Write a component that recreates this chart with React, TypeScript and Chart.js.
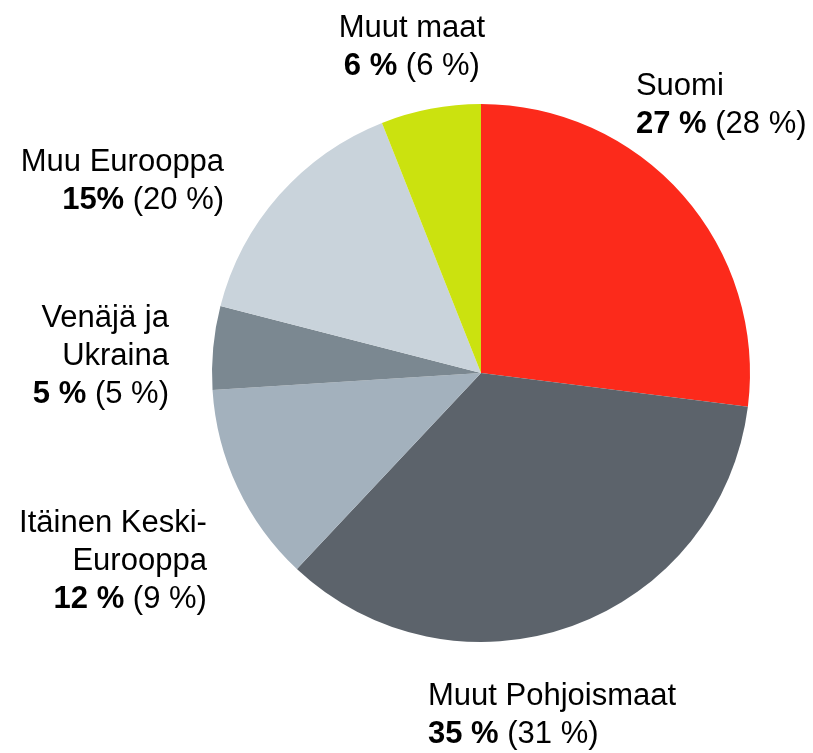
import React, { useEffect, useRef } from "react";
import { Chart, registerables } from "chart.js";

Chart.register(...registerables);

const categories = [
  "Suomi",
  "Muut Pohjoismaat",
  "Itäinen Keski-Eurooppa",
  "Venäjä ja Ukraina",
  "Muu Eurooppa",
  "Muut maat",
];
const shares = [27, 35, 12, 5, 15, 6];
const shareLabels = ["27 %", "35 %", "12 %", "5 %", "15%", "6 %"];
const previousLabels = ["(28 %)", "(31 %)", "(9 %)", "(5 %)", "(20 %)", "(6 %)"];
const nameLines = [
  ["Suomi"],
  ["Muut Pohjoismaat"],
  ["Itäinen Keski-", "Eurooppa"],
  ["Venäjä ja", "Ukraina"],
  ["Muu Eurooppa"],
  ["Muut maat"],
];
const colors = ["#FC2A1B", "#5C636B", "#A3B1BD", "#7B8891", "#C9D3DB", "#CBE20F"];

// label placement relative to pie centre, in units of the radius
const labelPlacement = [
  { fx: 0.576, fy: -1.033, align: "left" },
  { fx: -0.197, fy: 1.234, align: "left" },
  { fx: -1.019, fy: 0.591, align: "right" },
  { fx: -1.16, fy: -0.171, align: "right" },
  { fx: -0.955, fy: -0.751, align: "right" },
  { fx: -0.257, fy: -1.249, align: "center" },
];

const FONT_FAMILY = "'Liberation Sans', Arial, sans-serif";
const FONT_SIZE = 31;
const LINE_HEIGHT = 38;

const labelPlugin = {
  id: "outerLabels",
  afterDraw(chart: any) {
    const ctx = chart.ctx;
    const meta = chart.getDatasetMeta(0);
    const arc = meta.data[0];
    if (!arc) return;
    const cx = arc.x;
    const cy = arc.y;
    const r = arc.outerRadius;
    ctx.save();
    ctx.fillStyle = "#000";
    ctx.textBaseline = "alphabetic";
    ctx.textAlign = "left";
    categories.forEach((_, i) => {
      const p = labelPlacement[i];
      const ax = cx + p.fx * r;
      let by = cy + p.fy * r;
      const lines: { text: string; bold: boolean }[][] = nameLines[i].map((t) => [
        { text: t, bold: false },
      ]);
      lines.push([
        { text: shareLabels[i], bold: true },
        { text: " " + previousLabels[i], bold: false },
      ]);
      lines.forEach((segs) => {
        const widths = segs.map((s) => {
          ctx.font = (s.bold ? "bold " : "") + FONT_SIZE + "px " + FONT_FAMILY;
          return ctx.measureText(s.text).width;
        });
        const total = widths.reduce((a, b) => a + b, 0);
        let x = ax;
        if (p.align === "right") x = ax - total;
        else if (p.align === "center") x = ax - total / 2;
        segs.forEach((s, k) => {
          ctx.font = (s.bold ? "bold " : "") + FONT_SIZE + "px " + FONT_FAMILY;
          ctx.fillText(s.text, x, by);
          x += widths[k];
        });
        by += LINE_HEIGHT;
      });
    });
    ctx.restore();
  },
};

export default function App() {
  const canvasRef = useRef<HTMLCanvasElement | null>(null);

  useEffect(() => {
    document.body.style.margin = "0";
    const canvas = canvasRef.current;
    if (!canvas) return;
    const chart = new Chart(canvas, {
      type: "pie",
      data: {
        labels: categories,
        datasets: [
          {
            data: shares,
            backgroundColor: colors,
            borderWidth: 0,
          },
        ],
      },
      options: {
        animation: false,
        responsive: false,
        maintainAspectRatio: false,
        layout: { padding: { left: 212, right: 63, top: 104, bottom: 111 } },
        plugins: {
          legend: { display: false },
          tooltip: { enabled: false },
        },
      },
      plugins: [labelPlugin],
    });
    return () => chart.destroy();
  }, []);

  return (
    <div style={{ position: "absolute", left: 0, top: 0, width: 813, height: 753, background: "#fff" }}>
      <canvas ref={canvasRef} width={813} height={753} style={{ display: "block" }} />
    </div>
  );
}
